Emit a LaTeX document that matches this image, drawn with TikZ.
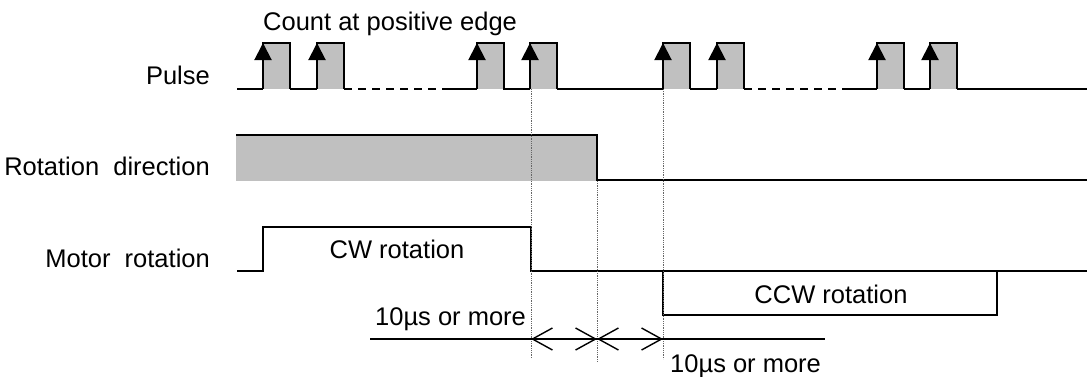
\documentclass[tikz,border=0pt]{standalone}
\usepackage{fontspec}
\setmainfont{Liberation Sans}
\usetikzlibrary{arrows.meta}

\definecolor{sgray}{HTML}{C0C0C0}

\tikzset{
	sig/.style={line width=2pt, line join=miter},
	guide/.style={densely dotted, line width=0.8pt, gray!80!black},
	dim/.style={line width=1.4pt},
	barb/.tip={Straight Barb[length=20pt,width=22pt]},
	dimarr/.style={dim, {barb}-{barb}},
	lbl/.style={inner sep=0pt, font=\fontsize{25.5}{28}\selectfont}
}

\begin{document}
\begin{tikzpicture}[x=1pt, y=-1pt]
			\useasboundingbox (0,0) rectangle (1089,376);
			% signal names
			\node[lbl, anchor=base east] (pulse) at (210,84) {Pulse};
			\node[lbl, anchor=base east] (dir) at (210,175) {Rotation\ \ direction};
			\node[lbl, anchor=base east] (motor) at (210,267) {Motor\ \ rotation};
			\node[lbl, anchor=base west] (edge) at (263,30) {Count at positive edge};
			% pulse train
			\foreach \x in {263,317,477,530,663,717,877,930}{
				\fill[sgray] (\x,43) rectangle (\x+27,89);
				\draw[sig] (\x,89) -- (\x,43) -- (\x+27,43) -- (\x+27,89);
				\draw[sig, -{Triangle[length=17pt,width=17pt]}] (\x,89) -- (\x,43);
			}
			\foreach \a/\b in {237/263,290/317,450/477,503/530,557/663,690/717,850/877,904/930,957/1087}
				\draw[sig] (\a,89) -- (\b,89);
			\draw[sig, dash pattern=on 8pt off 6pt] (344,89) -- (450,89) (744,89) -- (850,89);
			% rotation direction
			\fill[sgray] (236,135) rectangle (597,181);
			\draw[sig] (236,135) -- (597,135) -- (597,180) -- (1087,180);
			% motor rotation
			\draw[sig] (237,271) -- (263,271) -- (263,227) -- (531,227) -- (531,271) -- (1087,271);
			\draw[sig] (663,271) -- (663,315) -- (997,315) -- (997,271);
			\node[lbl, anchor=base] (cw) at (397,258) {CW rotation};
			\node[lbl, anchor=base] (ccw) at (831,303) {CCW rotation};
			% timing guides
			\coordinate (g1) at (531,358);
			\coordinate (g2) at (597,362);
			\coordinate (g3) at (663,359);
			\draw[guide] (531,89) -- (g1);
			\draw[guide] (597,181) -- (g2);
			\draw[guide] (663,89) -- (g3);
			\coordinate (d0) at (370,339);
			\coordinate (d1) at (531,339);
			\coordinate (d2) at (597,339);
			\coordinate (d3) at (663,339);
			\coordinate (d4) at (825,339);
			\draw[dim] (d0) -- (d4);
			\draw[dimarr] (d1) -- (d2);
			\draw[dimarr] (d2) -- (d3);
			\node[lbl, anchor=base west] (tl) at (375,325) {10µs or more};
			\node[lbl, anchor=base west] (tr) at (670,372) {10µs or more};
		\end{tikzpicture}
\end{document}
